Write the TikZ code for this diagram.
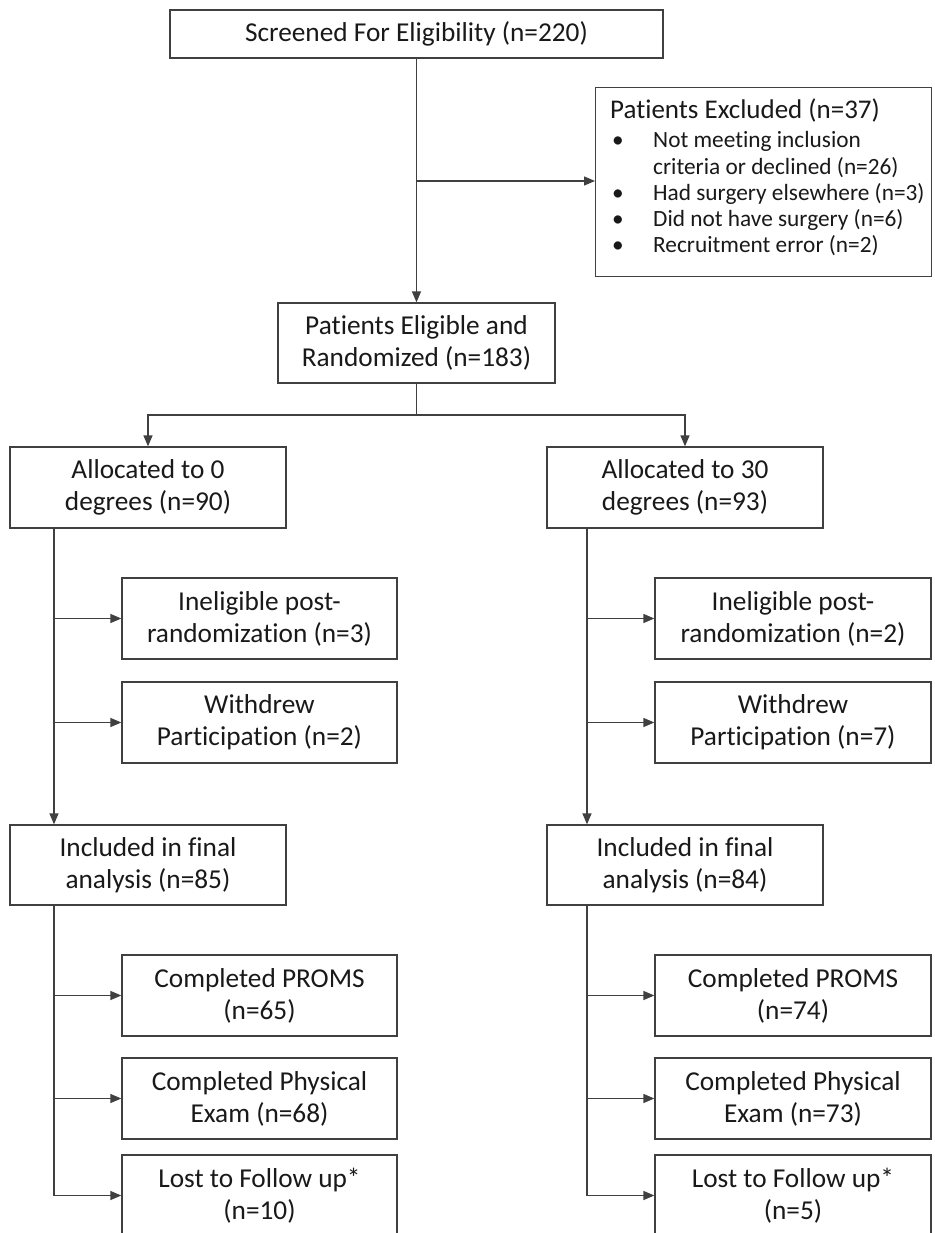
\documentclass[tikz,border=0pt]{standalone}
\usepackage{fontspec}
\setmainfont{Carlito}[Ligatures=NoCommon]
\usetikzlibrary{arrows.meta}
\begin{document}
\begin{tikzpicture}[x=1pt,y=-1pt,
  box/.style={draw=black!75, line width=1.3pt, fill=white, align=center, inner sep=0pt,
    font=\fontsize{27.3}{32}\selectfont, text=black!90},
  wide/.style={box, minimum width=276pt, minimum height=81pt},
  exline/.style={anchor=base west, inner sep=0pt, text=black!90, font=\fontsize{23.3}{27}\selectfont},
  ln/.style={draw=black!75, line width=1.3pt},
  arr/.style={ln, -{Triangle[length=11pt,width=9pt]}}]
\useasboundingbox (0,0) rectangle (934,1233);
\clip (0,0) rectangle (934,1233);
\fill[white] (0,0) rectangle (934,1233);

% nodes
\node[box, minimum width=493pt, minimum height=48pt] (screen) at (416.5,34) {Screened For Eligibility (n=220)};
\node[box, anchor=north west, minimum width=336pt, minimum height=189pt] (excl) at (595,87) {};
\node[exline, font=\fontsize{27}{30}\selectfont] (ex0) at (610,118.5) {Patients Excluded (n=37)};
\node[exline] (eb1) at (612,148) {\textbullet};
\node[exline] (ex1) at (653,148) {Not meeting inclusion};
\node[exline] (ex2) at (653,175) {criteria or declined (n=26)};
\node[exline] (eb3) at (612,201) {\textbullet};
\node[exline] (ex3) at (653,201) {Had surgery elsewhere (n=3)};
\node[exline] (eb4) at (612,227) {\textbullet};
\node[exline] (ex4) at (653,227) {Did not have surgery (n=6)};
\node[exline] (eb5) at (612,253) {\textbullet};
\node[exline] (ex5) at (653,253) {Recruitment error (n=2)};

\node[box, minimum width=277pt, minimum height=80pt] (elig) at (416.5,343) {Patients Eligible and\\Randomized (n=183)};

\node[wide] (alloc0) at (148,487.5) {Allocated to 0\\degrees (n=90)};
\node[wide] (alloc30) at (685,487.5) {Allocated to 30\\degrees (n=93)};

\node[wide, minimum width=275pt] (inel0) at (259.5,618.5) {Ineligible post-\\randomization (n=3)};
\node[wide, minimum width=275pt] (withd0) at (259.5,722.5) {Withdrew\\Participation (n=2)};
\node[wide] (inel30) at (793,618.5) {Ineligible post-\\randomization (n=2)};
\node[wide] (withd30) at (793,722.5) {Withdrew\\Participation (n=7)};

\node[wide, minimum height=80pt] (incl0) at (148,865) {Included in final\\analysis (n=85)};
\node[wide, minimum height=80pt] (incl30) at (685,865) {Included in final\\analysis (n=84)};

\node[wide, minimum width=275pt] (proms0) at (259.5,995.5) {Completed PROMS\\(n=65)};
\node[wide, minimum width=275pt] (phys0) at (259.5,1098.5) {Completed Physical\\Exam (n=68)};
\node[wide, minimum width=275pt] (lost0) at (259.5,1195.5) {Lost to Follow up*\\(n=10)};
\node[wide] (proms30) at (793,995.5) {Completed PROMS\\(n=74)};
\node[wide] (phys30) at (793,1098.5) {Completed Physical\\Exam (n=73)};
\node[wide] (lost30) at (793,1195.5) {Lost to Follow up*\\(n=5)};

% helper coordinates
\coordinate (jx) at (416.5,181);
\coordinate (ja) at (416.5,415);
\coordinate (c0x) at (54,0);
\coordinate (c1x) at (587,0);

% connectors
\draw[arr] (screen.south) -- (elig.north);
\draw[arr] (jx) -- (jx -| excl.west);
\draw[ln] (elig.south) -- (ja);
\draw[arr] (ja) -| (alloc0.north);
\draw[arr] (ja) -| (alloc30.north);

\draw[arr] (alloc0.south -| c0x) -- (incl0.north -| c0x);
\draw[arr] (inel0.west -| c0x) -- (inel0.west);
\draw[arr] (withd0.west -| c0x) -- (withd0.west);
\draw[arr] (alloc30.south -| c1x) -- (incl30.north -| c1x);
\draw[arr] (inel30.west -| c1x) -- (inel30.west);
\draw[arr] (withd30.west -| c1x) -- (withd30.west);

\draw[arr] (incl0.south -| c0x) |- (lost0.west);
\draw[arr] (proms0.west -| c0x) -- (proms0.west);
\draw[arr] (phys0.west -| c0x) -- (phys0.west);
\draw[arr] (incl30.south -| c1x) |- (lost30.west);
\draw[arr] (proms30.west -| c1x) -- (proms30.west);
\draw[arr] (phys30.west -| c1x) -- (phys30.west);
\end{tikzpicture}
\end{document}
